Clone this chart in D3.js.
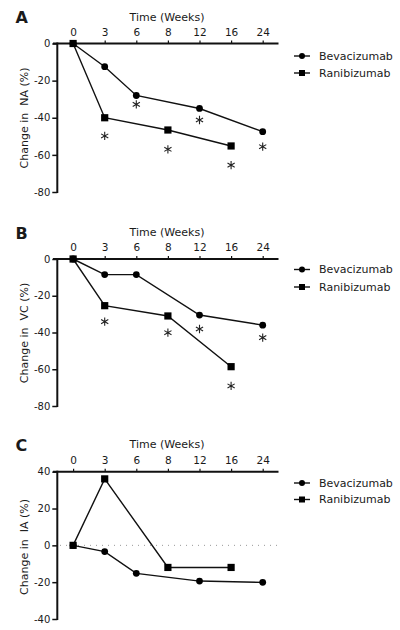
<!DOCTYPE html>
<html><head><meta charset="utf-8">
<script src="https://cdn.jsdelivr.net/npm/d3@7"></script>
<style>body{margin:0;background:#fff}svg{display:block}text{font-family:"DejaVu Sans",sans-serif;fill:#1a1a1a}</style>
</head><body>
<svg id="c" width="400" height="630"></svg>
<script>
const weeks = ["0","3","6","8","12","16","24"];
const seriesNames = ["Bevacizumab","Ranibizumab"];
// Panel A: NA
const naBevWeeks = ["0","3","6","12","24"];
const naBev = [0,-12.5,-28,-35,-47.5];
const naRaniWeeks = ["0","3","8","16"];
const naRani = [0,-40,-46.6,-55.2];
const naStarWeeks = ["6","12","24","3","8","16"];
const naStarVals = [-32.8,-41.2,-55.6,-49.8,-57,-65.5];
// Panel B: VC
const vcBevWeeks = ["0","3","6","12","24"];
const vcBev = [0,-8.5,-8.5,-30.5,-36];
const vcRaniWeeks = ["0","3","8","16"];
const vcRani = [0,-25.4,-31,-58.6];
const vcStarWeeks = ["3","8","12","24","16"];
const vcStarVals = [-34.1,-40.1,-38.1,-42.8,-69.1];
// Panel C: IA
const iaBevWeeks = ["0","3","6","12","24"];
const iaBev = [0,-3.4,-15.2,-19.4,-20.1];
const iaRaniWeeks = ["0","3","8","16"];
const iaRani = [0,36.1,-12,-12];
const iaStarWeeks = [];
const iaStarVals = [];
const naTicks = [0,-20,-40,-60,-80];
const vcTicks = [0,-20,-40,-60,-80];
const iaTicks = [40,20,0,-20,-40];

const svg = d3.select("#c");
const x = d3.scalePoint().domain(weeks).range([57.3,278.5]).padding(0.5);
const fmt = v => String(v); // plain hyphen minus like the original

const panels = [
  {letter:"A", ylab:"Change in  NA (%)", top:43.5, bot:192, dom:[-80,0], ticks:naTicks,
   bev:[naBevWeeks,naBev], rani:[naRaniWeeks,naRani], stars:[naStarWeeks,naStarVals],
   letterY:22.7, titleY:20.7, legY:[56,73], ylabY:118, dotted:false},
  {letter:"B", ylab:"Change in  VC (%)", top:259, bot:406, dom:[-80,0], ticks:vcTicks,
   bev:[vcBevWeeks,vcBev], rani:[vcRaniWeeks,vcRani], stars:[vcStarWeeks,vcStarVals],
   letterY:239.3, titleY:236, legY:[269.5,287], ylabY:333, dotted:false},
  {letter:"C", ylab:"Change in  IA (%)", top:471.7, bot:619, dom:[-40,40], ticks:iaTicks,
   bev:[iaBevWeeks,iaBev], rani:[iaRaniWeeks,iaRani], stars:[iaStarWeeks,iaStarVals],
   letterY:450.7, titleY:448, legY:[483,499.5], ylabY:547, dotted:true}
];

const star = d3.symbol().type(d3.symbolAsterisk).size(48);
const tickFont = "'DejaVu Sans Condensed','DejaVu Sans',sans-serif";

panels.forEach(p => {
  const g = svg.append("g");
  const y = d3.scaleLinear().domain(p.dom).range([p.bot,p.top]);
  const axisY = p.top;
  if (p.dotted) {
    g.append("line").attr("x1",60).attr("x2",278).attr("y1",y(0)).attr("y2",y(0))
     .attr("stroke","#999").attr("stroke-width",1).attr("stroke-dasharray","1,5");
  }
  const xa = g.append("g").attr("transform",`translate(0,${axisY})`)
    .call(d3.axisTop(x).tickSize(3).tickSizeOuter(0).tickPadding(5));
  xa.select(".domain").remove();
  xa.selectAll(".tick line").attr("stroke","#111").attr("stroke-width",1.2);
  xa.selectAll("text").attr("font-size",10.5).attr("fill","#1a1a1a").attr("font-family",tickFont);
  g.append("line").attr("x1",53).attr("x2",278.5).attr("y1",axisY).attr("y2",axisY)
   .attr("stroke","#111").attr("stroke-width",2);
  const ya = g.append("g").attr("transform","translate(57.3,0)")
    .call(d3.axisLeft(y).tickValues(p.ticks).tickFormat(fmt).tickSize(5).tickSizeOuter(0).tickPadding(2));
  ya.select(".domain").remove();
  ya.selectAll(".tick line").attr("stroke","#111").attr("stroke-width",1.5);
  ya.selectAll("text").attr("font-size",10).attr("fill","#1a1a1a").attr("font-family",tickFont);
  g.append("line").attr("x1",57.3).attr("x2",57.3).attr("y1",axisY-1).attr("y2",p.bot+1)
   .attr("stroke","#111").attr("stroke-width",2);
  g.append("text").attr("x",15.5).attr("y",p.letterY).text(p.letter)
   .attr("font-family","'Liberation Sans',Arial,sans-serif").attr("font-weight","bold").attr("font-size",16).attr("fill","#000");
  g.append("text").attr("x",167).attr("y",p.titleY).attr("text-anchor","middle").attr("font-size",11).text("Time (Weeks)");
  g.append("text").attr("transform",`translate(28,${p.ylabY}) rotate(-90)`).attr("text-anchor","middle")
   .attr("font-size",11).style("white-space","pre").attr("fill","#333").text(p.ylab);
  const line = d3.line().x(d=>x(d[0])).y(d=>y(d[1]));
  const bevPts = p.bev[0].map((w,i)=>[w,p.bev[1][i]]);
  const raniPts = p.rani[0].map((w,i)=>[w,p.rani[1][i]]);
  g.append("path").attr("d",line(bevPts)).attr("fill","none").attr("stroke","#111").attr("stroke-width",1.4);
  g.append("path").attr("d",line(raniPts)).attr("fill","none").attr("stroke","#111").attr("stroke-width",1.4);
  g.selectAll(".bc").data(bevPts).join("circle").attr("cx",d=>x(d[0])).attr("cy",d=>y(d[1])).attr("r",3.4).attr("fill","#000");
  g.selectAll(".rs").data(raniPts).join("rect").attr("x",d=>x(d[0])-3.6).attr("y",d=>y(d[1])-3.6)
   .attr("width",7.2).attr("height",7.2).attr("fill","#000");
  const starPts = p.stars[0].map((w,i)=>[w,p.stars[1][i]]);
  g.selectAll(".st").data(starPts).join("path").attr("d",star)
   .attr("transform",d=>`translate(${x(d[0])},${y(d[1])})`).attr("fill","none").attr("stroke","#222").attr("stroke-width",1.1);
  seriesNames.forEach((nm,i)=>{
    const ly = p.legY[i];
    g.append("line").attr("x1",294).attr("x2",310).attr("y1",ly).attr("y2",ly).attr("stroke","#111").attr("stroke-width",1.4);
    if (i===0) g.append("circle").attr("cx",302).attr("cy",ly).attr("r",3).attr("fill","#000");
    else g.append("rect").attr("x",299).attr("y",ly-3).attr("width",6).attr("height",6).attr("fill","#000");
    g.append("text").attr("x",319).attr("y",ly).attr("dy","0.35em").attr("font-size",11).text(nm);
  });
});
</script>
</body></html>
